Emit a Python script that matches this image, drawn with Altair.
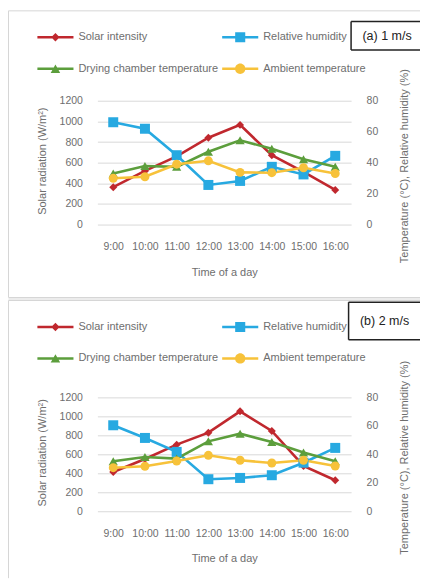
import altair as alt
import pandas as pd

times = ["9:00", "10:00", "11:00", "12:00", "13:00", "14:00", "15:00", "16:00"]
series_names = ["Solar intensity", "Relative humidity",
                "Drying chamber temperature", "Ambient temperature"]

# panel (a) 1 m/s
solar_a = [362, 520, 660, 842, 966, 672, 510, 336]
rh_a = [66.1, 61.9, 44.8, 25.6, 28.2, 37.3, 32.4, 44.4]
dct_a = [33.0, 37.8, 37.3, 47.0, 54.4, 49.0, 42.2, 37.3]
amb_a = [29.9, 30.9, 39.0, 41.2, 33.7, 33.5, 36.7, 33.0]

# panel (b) 2 m/s
solar_b = [414, 550, 702, 828, 1053, 846, 477, 326]
rh_b = [60.4, 51.5, 41.7, 22.5, 23.4, 25.3, 34.1, 44.5]
dct_b = [35.1, 38.1, 37.0, 49.1, 54.5, 48.7, 41.2, 35.1]
amb_b = [30.6, 31.6, 35.3, 39.3, 35.8, 33.9, 35.8, 31.8]

left_ticks = [0, 200, 400, 600, 800, 1000, 1200]
right_ticks = [0, 20, 40, 60, 80]

colors = ["#C0282E", "#27A9E1", "#5C9E3C", "#F7C23A"]
shapes = ["diamond", "square", "triangle-up", "circle"]
sizes = [64, 100, 85, 80]

LINE = "M-1.29,-0.09H1.29V0.09H-1.29Z"
legend_paths = [
    LINE + "M0,-0.3L0.3,0L0,0.3L-0.3,0Z",
    LINE + "M-0.36,-0.36H0.36V0.36H-0.36Z",
    LINE + "M0,-0.3L0.34,0.3L-0.34,0.3Z",
    LINE + "M-0.37,0A0.37,0.37,0,1,1,0.37,0A0.37,0.37,0,1,1,-0.37,0Z",
]
# legend fills column by column: order so rows read as in the reference
legend_order = [0, 2, 1, 3]

FONT = "Liberation Sans"
GRAY = "#6e6e6e"
BORDER = "#d6d6d6"
W = 254
RIGHT = 323


def rule(x, x2, y, y2, color, width):
    return alt.Chart(pd.DataFrame({"k": [0]})).mark_rule(color=color, strokeWidth=width).encode(
        x=alt.value(x), x2=alt.value(x2), y=alt.value(y), y2=alt.value(y2))


def panel(solar, rh, dct, amb, label, h, legend_y, box, frame, x_title_y):
    df_left = pd.DataFrame({"time": times, "value": solar, "series": series_names[0]})
    df_right = pd.concat([
        pd.DataFrame({"time": times, "value": rh, "series": series_names[1]}),
        pd.DataFrame({"time": times, "value": dct, "series": series_names[2]}),
        pd.DataFrame({"time": times, "value": amb, "series": series_names[3]}),
    ], ignore_index=True)

    x_enc = alt.X("time:N", sort=times, scale=alt.Scale(type="point", padding=0.5),
                  axis=alt.Axis(title="Time of a day", labelAngle=0, domain=False, ticks=False,
                                labelPadding=17, labelFontSize=10.5, labelColor=GRAY, labelFont=FONT,
                                titleFont=FONT, titleFontSize=11, titleColor=GRAY, titleFontWeight="normal",
                                titleX=W / 2, titleY=x_title_y, titleBaseline="middle",
                                titleAlign="center"))
    y_left = alt.Y("value:Q", scale=alt.Scale(domain=[0, 1200], nice=False, zero=True),
                   axis=alt.Axis(values=left_ticks, format="d", title="Solar radiation (W/m²)", domain=False,
                                 ticks=False, grid=True, gridColor="#d9d9d9", gridWidth=1,
                                 labelPadding=15, labelFontSize=10.5, labelColor=GRAY, labelFont=FONT,
                                 titleFont=FONT, titleFontSize=11, titleColor=GRAY,
                                 titleFontWeight="normal", titleAngle=270, titleX=-55,
                                 titleY=h / 2 - 2, titleBaseline="middle", titleAlign="center"))
    y_right = alt.Y("value:Q", scale=alt.Scale(domain=[0, 80], nice=False, zero=True),
                    axis=alt.Axis(values=right_ticks, format="d", orient="right",
                                  title="Temperature (°C), Relative humidity (%)", domain=False,
                                  ticks=False, grid=False, labelPadding=15, labelFontSize=10.5,
                                  labelColor=GRAY, labelFont=FONT, titleFont=FONT, titleFontSize=11,
                                  titleColor=GRAY, titleFontWeight="normal", titleAngle=270,
                                  titleX=53, titleY=h / 2 + 3, titleBaseline="middle",
                                  titleAlign="center"))

    deco = []
    top, bottom, band = frame
    # panel frame: left and top edges (+ bottom edge and gray gap for the upper panel)
    deco.append(rule(-89, -89, top, bottom, BORDER, 1))
    deco.append(rule(-89, RIGHT, top, top, BORDER, 1))
    if band is not None:
        deco.append(alt.Chart(pd.DataFrame({"k": [0]})).mark_rect(fill="#ececec").encode(
            x=alt.value(-89), x2=alt.value(RIGHT), y=alt.value(bottom), y2=alt.value(band)))
        deco.append(rule(-89, RIGHT, bottom, bottom, BORDER, 1))
    # label box (right edge runs off the page)
    bx, by, by2 = box
    deco.append(rule(bx, bx, by, by2, "#222222", 1.5))
    deco.append(rule(bx, RIGHT, by, by, "#222222", 1.5))
    deco.append(rule(bx, RIGHT, by2, by2, "#222222", 1.5))
    deco.append(alt.Chart(pd.DataFrame({"k": [0]})).mark_text(
        text=label, font=FONT, fontSize=12.5, color="#222222", align="center", baseline="middle").encode(
        x=alt.value(bx + 36), y=alt.value((by + by2) / 2)))

    left_layers = [
        alt.Chart(df_left).mark_line(color=colors[0], strokeWidth=2.6).encode(x=x_enc, y=y_left),
        alt.Chart(df_left).mark_point(shape=shapes[0], size=sizes[0], filled=True, opacity=1,
                                      color=colors[0]).encode(x=x_enc, y=y_left),
    ]
    right_layers = []
    for i in range(1, 4):
        d = df_right[df_right["series"] == series_names[i]]
        right_layers.append(alt.Chart(d).mark_line(color=colors[i], strokeWidth=2.6).encode(x=x_enc, y=y_right))
    for i in range(1, 4):
        d = df_right[df_right["series"] == series_names[i]]
        right_layers.append(alt.Chart(d).mark_point(shape=shapes[i], size=sizes[i], filled=True,
                                                    opacity=1, color=colors[i]).encode(x=x_enc, y=y_right))

    dom = [series_names[i] for i in legend_order]
    leg = alt.Legend(title=None, orient="none", legendX=-56, legendY=legend_y, columns=2,
                     symbolSize=784, symbolStrokeWidth=0, labelFont=FONT, labelFontSize=11,
                     labelColor=GRAY, labelOffset=9, columnPadding=2, rowPadding=12, padding=0,
                     symbolOpacity=1, labelLimit=300)
    legend_layer = alt.Chart(pd.DataFrame({"series": series_names})).transform_filter("false").mark_point(
        filled=True, opacity=1).encode(
        color=alt.Color("series:N", scale=alt.Scale(domain=dom, range=[colors[i] for i in legend_order]),
                        legend=leg),
        shape=alt.Shape("series:N", scale=alt.Scale(domain=dom, range=[legend_paths[i] for i in legend_order]),
                        legend=leg),
    )

    left = alt.layer(*left_layers)
    right = alt.layer(*right_layers)
    return alt.layer(*deco, left, right, legend_layer).resolve_scale(y="independent").properties(
        width=W, height=h)


pa = panel(solar_a, rh_a, dct_a, amb_a, "(a) 1 m/s", 124, -78, (254, -79.3, -50.7), (-90, 197, 200), 48)
pb = panel(solar_b, rh_b, dct_b, amb_b, "(b) 2 m/s", 114, -85, (251.5, -95.3, -57.7), (-97, 181, None), 47)

chart = alt.vconcat(pa, pb, spacing=173, bounds="flush").resolve_scale(
    color="independent", shape="independent", x="independent", y="independent").resolve_legend(
    color="independent", shape="independent").properties(
    padding={"left": 7.5, "top": 9.5, "right": 0, "bottom": 0},
    background="white",
).configure_view(stroke=None)

chart.save("out.html", embed_options={"renderer": "svg", "actions": False})
